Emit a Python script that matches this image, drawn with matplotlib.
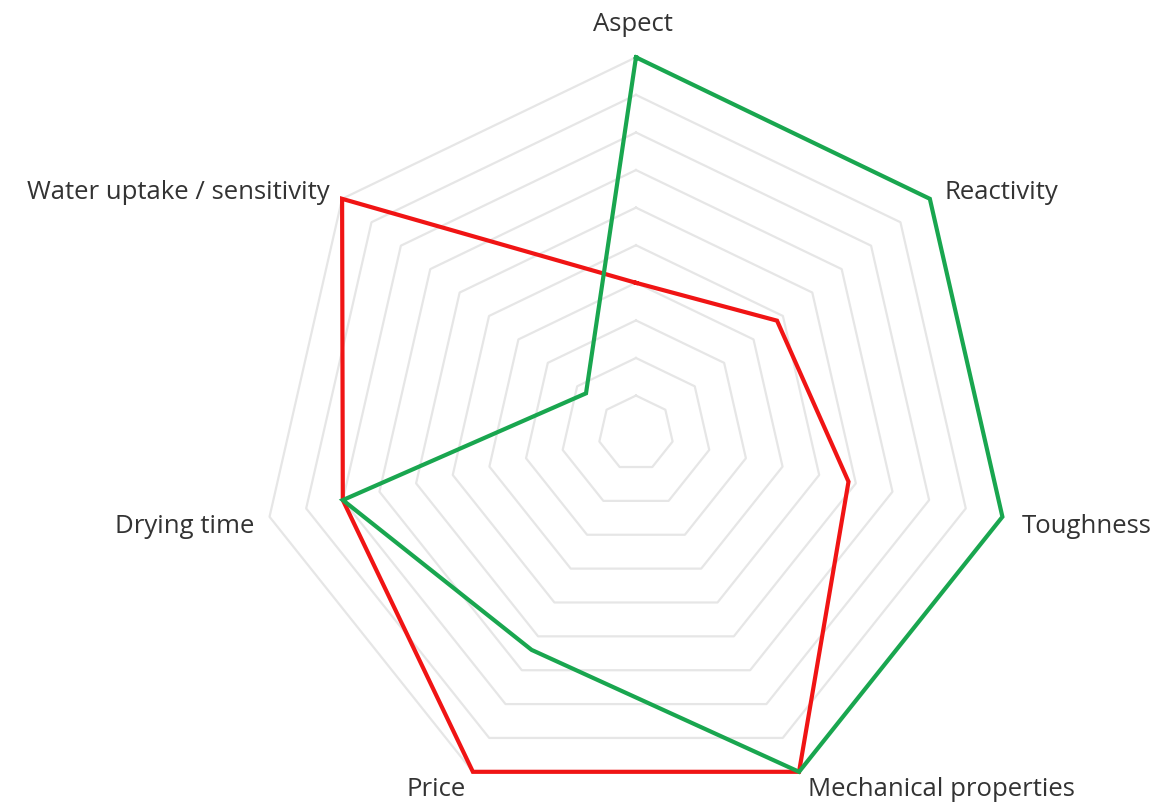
import numpy as np
import matplotlib
matplotlib.use("Agg")
import matplotlib.pyplot as plt

categories = ["Aspect", "Reactivity", "Toughness", "Mechanical properties",
              "Price", "Drying time", "Water uptake / sensitivity"]
green_values = [10, 10, 10, 10, 6.4, 8, 1.7]
red_values = [4, 4.8, 5.8, 10, 10, 8, 10]
grid_levels = [1, 2, 3, 4, 5, 6, 7, 8, 9, 10]

plt.rcParams['font.family'] = ['Open Sans', 'DejaVu Sans']

fig = plt.figure(figsize=(11.54, 8.04), dpi=100)
ax = fig.add_axes([0.2253, -0.0075, 0.6516, 0.935], projection='polar')
ax.set_theta_offset(np.pi / 2)
ax.set_theta_direction(-1)
ax.set_ylim(0, 10)
ax.axis('off')

n = len(categories)
angles = np.linspace(0, 2 * np.pi, n, endpoint=False)
ang_closed = np.concatenate([angles, angles[:1]])

for lv in grid_levels:
    ax.plot(ang_closed, [lv] * (n + 1), color='#e6e6e6', lw=1.6, zorder=1, clip_on=False)

ax.plot(ang_closed, red_values + red_values[:1], color='#f01414', lw=3.0, zorder=3,
        solid_joinstyle='miter', clip_on=False)
ax.plot(ang_closed, green_values + green_values[:1], color='#19a64f', lw=3.0, zorder=4,
        solid_joinstyle='miter', clip_on=False)

offsets = [(-3, 34, 'center'), (15, 7, 'left'), (19, -9, 'left'), (9, -17, 'left'),
           (-7, -17, 'right'), (-15, -9, 'right'), (-12, 7, 'right')]
for a, lab, (dx, dy, ha) in zip(angles, categories, offsets):
    ax.annotate(lab, xy=(a, 10), xytext=(dx, dy), textcoords='offset pixels',
                ha=ha, va='center', fontsize=18.5, color='#333333', annotation_clip=False)

fig.savefig('out.png', dpi=100)
